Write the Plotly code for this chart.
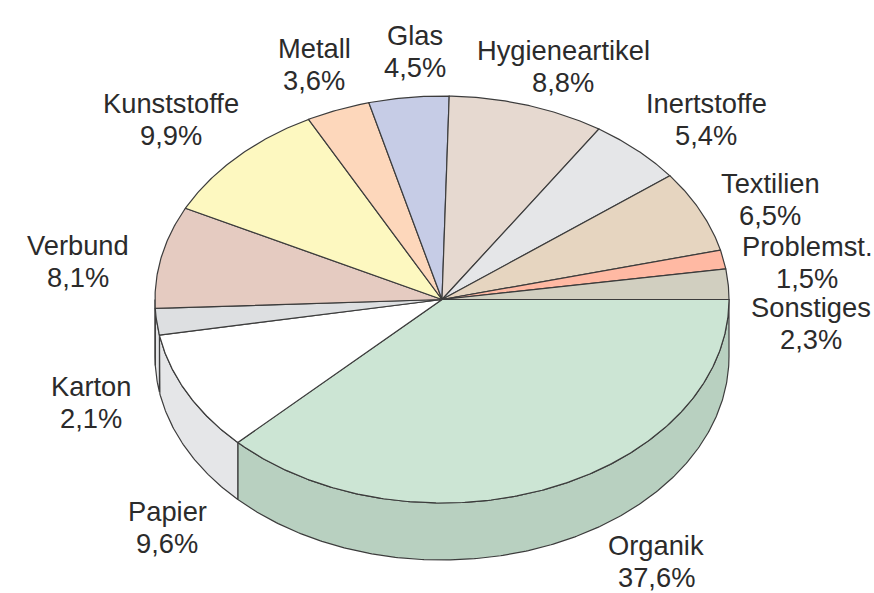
import numpy as np
import plotly.graph_objects as go

categories = ["Organik", "Papier", "Karton", "Verbund", "Kunststoffe", "Metall", "Glas",
              "Hygieneartikel", "Inertstoffe", "Textilien", "Problemst.", "Sonstiges"]
values = [37.6, 9.6, 2.1, 8.1, 9.9, 3.6, 4.5, 8.8, 5.4, 6.5, 1.5, 2.3]
value_labels = ["37,6%", "9,6%", "2,1%", "8,1%", "9,9%", "3,6%", "4,5%", "8,8%", "5,4%", "6,5%", "1,5%", "2,3%"]
top_colors = ["#cce5d4", "#ffffff", "#dddfe1", "#e5cbc1", "#fdf8c0", "#fdd7bb", "#c6cce6",
              "#e6d9d0", "#e5e6e8", "#e6d5c0", "#ffb9a3", "#d1cfc0"]
wall_colors = ["#b8d0c0", "#e5e6e8", "#e5e6e8", "#d5c0b8", "#e0dcb0", "#e0c0a8", "#b0b8d0",
               "#d0c4bc", "#d0d0d4", "#d0c0ac", "#e0a590", "#bcbaac"]
label_x = [656, 167, 91, 78, 171, 314, 415, 563, 706, 770, 807, 811]
label_y = [561, 527, 402, 261, 119, 64, 51, 66, 119, 199, 262, 323]

CX, CY, RX, RY, DEPTH = 442, 299.5, 287, 203.5, 57
LINE = "#3c3c3c"
LINE_GAP = 16

fig = go.Figure()
# Labels are percentages summing to 99.7; the rounding remainder closes the circle in the last slice.
edges = np.cumsum([0] + values) / 100 * 2 * np.pi
edges[-1] = 2 * np.pi


def arc(a0, a1):
    t = np.linspace(a0, a1, max(int((a1 - a0) * 120), 2))
    return CX + RX * np.cos(t), CY + RY * np.sin(t)


def add_poly(x, y, color):
    fig.add_trace(go.Scatter(x=x, y=y, mode="lines", fill="toself", fillcolor=color,
                             line=dict(color=LINE, width=1.2), hoverinfo="skip", showlegend=False))


# side walls (only the front half of the ellipse is visible)
for i in range(len(values)):
    a0, a1 = edges[i], min(edges[i + 1], np.pi)
    if a0 >= np.pi:
        continue
    ax, ay = arc(a0, a1)
    add_poly(np.r_[ax, ax[::-1], ax[0]], np.r_[ay, ay[::-1] + DEPTH, ay[0]], wall_colors[i])

# top faces
for i in range(len(values)):
    ax, ay = arc(edges[i], edges[i + 1])
    add_poly(np.r_[CX, ax, CX], np.r_[CY, ay, CY], top_colors[i])

font = dict(family="Liberation Sans, Arial, sans-serif", size=27.3, color="#2b2b2b")
for c, v, x, y in zip(categories, value_labels, label_x, label_y):
    fig.add_annotation(x=x, y=y - LINE_GAP, text=c, showarrow=False, xanchor="center", yanchor="middle", font=font)
    fig.add_annotation(x=x, y=y + LINE_GAP, text=v, showarrow=False, xanchor="center", yanchor="middle", font=font)

fig.update_layout(
    width=874, height=593, margin=dict(l=0, r=0, t=0, b=0),
    paper_bgcolor="white", plot_bgcolor="white", showlegend=False,
    xaxis=dict(range=[0, 874], visible=False, fixedrange=True),
    yaxis=dict(range=[593, 0], visible=False, fixedrange=True),
)
fig.write_html("out.html", config={"displayModeBar": False},
               post_script="document.body.style.margin='0';document.body.style.overflow='hidden';")
